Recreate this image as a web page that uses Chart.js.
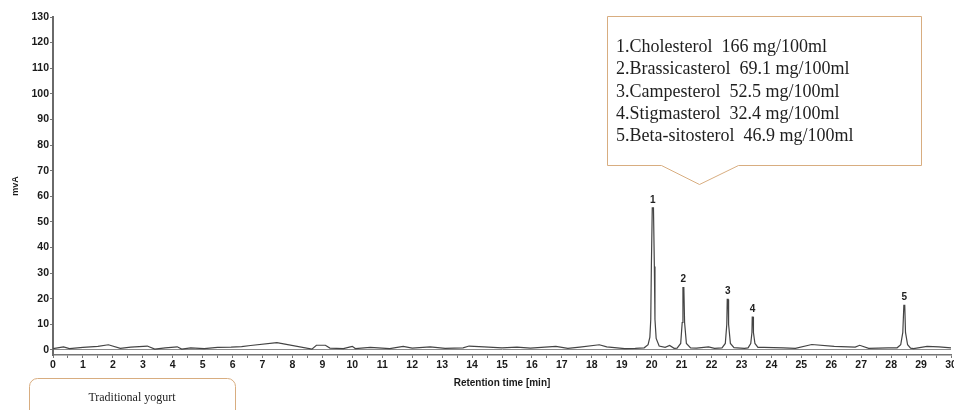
<!DOCTYPE html>
<html>
<head>
<meta charset="utf-8">
<script src="https://cdn.jsdelivr.net/npm/chart.js@4.4.1/dist/chart.umd.min.js"></script>
<style>
  html, body { margin: 0; padding: 0; background: #fff; }
  #wrap { position: relative; width: 954px; height: 410px; }
</style>
</head>
<body>
<div id="wrap"><canvas id="myChart"></canvas></div>
<script>
// chromatogram trace (min / mvA)
const retentionTime = [
  0.00, 0.35, 0.55, 1.00, 1.50, 1.85, 2.25, 2.60, 3.15, 3.40,
  3.75, 4.15, 4.30, 4.60, 5.05, 5.50, 5.95, 6.30, 6.60, 7.48,
  8.65, 8.80, 9.10, 9.25, 9.70, 9.90, 10.00, 10.10, 10.60, 11.25,
  11.70, 12.00, 12.60, 13.10, 13.70, 13.90, 14.40, 15.00, 15.50, 15.95,
  16.80, 17.20, 17.60, 18.25, 18.50, 19.10, 19.45,
  19.75, 19.88, 19.94, 19.97, 19.99, 20.02, 20.06, 20.09, 20.11, 20.15, 20.25,
  20.45, 20.60, 20.75,
  20.85, 20.97, 21.02, 21.045, 21.075, 21.10, 21.16, 21.30,
  21.50, 21.90, 22.10,
  22.35, 22.46, 22.51, 22.525, 22.555, 22.57, 22.63, 22.75,
  22.85, 23.10,
  23.22, 23.31, 23.35, 23.36, 23.39, 23.40, 23.45, 23.55,
  23.75, 24.40, 24.80, 25.35, 26.10, 26.80, 26.95, 27.25, 27.90, 28.20,
  28.32, 28.39, 28.425, 28.455, 28.48, 28.55, 28.65,
  28.75, 29.20, 29.60, 30.00
];
const signalMvA = [
  0.5, 1.2, 0.5, 1.0, 1.4, 2.0, 0.6, 1.1, 1.5, 0.3,
  0.8, 1.2, 0.3, 0.8, 0.5, 1.0, 1.1, 1.3, 1.7, 2.8,
  0.3, 1.8, 1.8, 0.7, 0.5, 1.1, 1.4, 0.5, 1.0, 0.5,
  1.4, 0.7, 1.2, 0.6, 0.8, 1.5, 1.2, 0.8, 1.1, 0.7,
  1.4, 0.6, 1.1, 2.0, 1.2, 0.5, 0.6,
  0.8, 2.0, 5.0, 11.9, 32.6, 55.5, 55.5, 32.6, 11.9, 4.5, 1.5,
  1.0, 1.7, 0.6,
  0.7, 2.5, 10.7, 24.3, 24.3, 10.7, 2.5, 0.8,
  0.7, 1.2, 0.6,
  0.8, 2.5, 10.0, 19.7, 19.7, 10.0, 2.5, 0.9,
  0.8, 0.6,
  0.8, 2.5, 6.8, 12.8, 12.8, 6.8, 2.5, 1.0,
  1.0, 0.8, 0.6, 2.1, 1.4, 1.1, 1.8, 0.6, 0.8, 0.8,
  2.0, 6.8, 17.4, 17.4, 6.8, 2.0, 0.7,
  0.5, 1.4, 1.2, 0.8
];

// peak labels
const peakNumbers = ['1', '2', '3', '4', '5'];
const peakTimes = [20.04, 21.06, 22.54, 23.37, 28.44];
const peakHeights = [55.5, 24.3, 19.7, 12.8, 17.4];

// callout text
const compounds = ['Cholesterol', 'Brassicasterol', 'Campesterol', 'Stigmasterol', 'Beta-sitosterol'];
const concentrations = ['166', '69.1', '52.5', '32.4', '46.9'];
const unidad = 'mg/100ml';
const muestra = 'Traditional yogurt';

const yTicks = [0, 10, 20, 30, 40, 50, 60, 70, 80, 90, 100, 110, 120, 130];

const sans = '"Liberation Sans", Arial, sans-serif';
const serif = '"Liberation Serif", "Times New Roman", serif';
const borde = '#d8ad80';

const puntos = retentionTime.map((t, i) => ({ x: t, y: signalMvA[i] }));

const anotaciones = {
  id: 'anotaciones',
  afterDatasetsDraw(chart) {
    const ctx = chart.ctx;
    const xs = chart.scales.x;
    const ys = chart.scales.y;

    // numbers above the peaks
    ctx.save();
    ctx.fillStyle = '#222';
    ctx.font = 'bold 10px ' + sans;
    ctx.textAlign = 'center';
    ctx.textBaseline = 'bottom';
    peakNumbers.forEach((n, i) => {
      ctx.fillText(n, xs.getPixelForValue(peakTimes[i]), ys.getPixelForValue(peakHeights[i]) - 3);
    });
    ctx.restore();

    // callout box with the results
    ctx.save();
    ctx.strokeStyle = borde;
    ctx.lineWidth = 1;
    ctx.fillStyle = '#fff';
    ctx.beginPath();
    ctx.moveTo(607.5, 16.5);
    ctx.lineTo(921.5, 16.5);
    ctx.lineTo(921.5, 165.5);
    ctx.lineTo(738.5, 165.5);
    ctx.lineTo(699.5, 184.5);
    ctx.lineTo(661.5, 165.5);
    ctx.lineTo(607.5, 165.5);
    ctx.closePath();
    ctx.fill();
    ctx.stroke();

    ctx.fillStyle = '#1e1e1e';
    ctx.font = '18px ' + serif;
    ctx.textAlign = 'left';
    ctx.textBaseline = 'middle';
    compounds.forEach((c, i) => {
      ctx.fillText(`${i + 1}.${c}  ${concentrations[i]} ${unidad}`, 616, 47 + i * 22.4);
    });
    ctx.restore();

    // sample box, bottom left
    ctx.save();
    ctx.strokeStyle = borde;
    ctx.lineWidth = 1;
    ctx.beginPath();
    ctx.roundRect(29.5, 378.5, 206, 60, 8);
    ctx.stroke();
    ctx.fillStyle = '#1e1e1e';
    ctx.font = '12px ' + serif;
    ctx.textAlign = 'center';
    ctx.textBaseline = 'middle';
    ctx.fillText(muestra, 132, 398);
    ctx.restore();
  }
};

const config = {
  type: 'line',
  data: {
    datasets: [{
      data: puntos,
      borderColor: '#444',
      borderWidth: 1.2,
      pointRadius: 0,
      tension: 0,
      fill: false
    }]
  },
  options: {
    animation: false,
    responsive: true,
    maintainAspectRatio: false,
    layout: { padding: { top: 17, right: 3, left: 0, bottom: 0 } },
    plugins: { legend: { display: false }, tooltip: { enabled: false } },
    scales: {
      x: {
        type: 'linear',
        min: 0,
        max: 30,
        ticks: {
          stepSize: 0.5,
          autoSkip: false,
          maxRotation: 0,
          padding: 1,
          color: '#1a1a1a',
          font: { family: sans, size: 10.5, weight: 'bold' },
          callback: (v) => Number.isInteger(v) ? String(v) : ''
        },
        grid: { drawOnChartArea: false, tickLength: 3, color: '#777' },
        border: { color: '#777', width: 1.5 },
        title: {
          display: true,
          text: 'Retention time [min]',
          color: '#1a1a1a',
          font: { family: sans, size: 10, weight: 'bold' },
          padding: { top: 0, bottom: 21 }
        },
        afterFit: (s) => { s.height = 55; s.paddingLeft = 0; s.paddingRight = 0; }
      },
      y: {
        min: -2,
        max: 130,
        afterBuildTicks: (s) => { s.ticks = yTicks.map((v) => ({ value: v })); },
        ticks: {
          padding: 1,
          color: '#1a1a1a',
          font: { family: sans, size: 10.5, weight: 'bold' }
        },
        grid: {
          tickLength: 3,
          tickColor: '#777',
          color: (c) => (c.tick && c.tick.value === 0) ? '#8a8a8a' : 'rgba(0,0,0,0)'
        },
        border: { color: '#6a6a6a', width: 2 },
        title: {
          display: true,
          text: 'mvA',
          color: '#1a1a1a',
          font: { family: sans, size: 9, weight: 'bold' },
          padding: { top: 10, bottom: 0 }
        },
        afterFit: (s) => { s.width = 53; s.paddingTop = 0; s.paddingBottom = 0; }
      }
    }
  },
  plugins: [anotaciones]
};

window.myChart = new Chart(document.getElementById('myChart'), config);
</script>
</body>
</html>
